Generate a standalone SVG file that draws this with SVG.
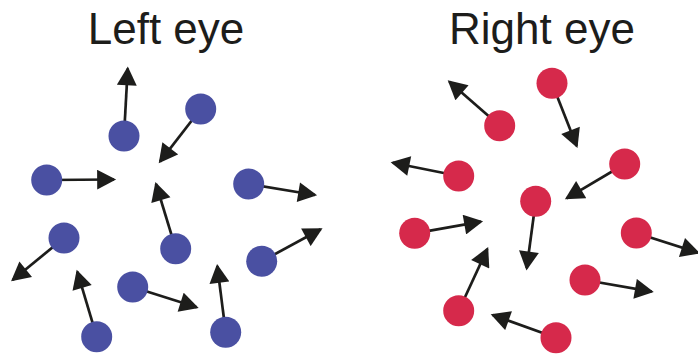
<svg xmlns="http://www.w3.org/2000/svg" width="698" height="355" viewBox="0 0 698 355">
<style>
.title{font-family:"Liberation Sans",Arial,Helvetica,sans-serif;font-size:44px;fill:#1d1d1b;text-anchor:middle}
.l{stroke:#1d1d1b;stroke-width:2.7;fill:none;marker-end:url(#ah)}
.b{fill:#4a50a2}
.r{fill:#d6294b}
</style>
<defs>
<marker id="ah" markerUnits="userSpaceOnUse" markerWidth="20" markerHeight="20" viewBox="0 0 18 19" refX="16" refY="9.5" orient="auto">
<path d="M0,0 L18,9.5 L0,19 Z" fill="#1d1d1b"/>
</marker>
</defs>
<rect width="698" height="355" fill="#ffffff"/>
<text class="title" x="166" y="44">Left eye</text>
<text class="title" x="542" y="44">Right eye</text>
<g id="connectors">
<line class="l" x1="124" y1="136" x2="127.7" y2="68.5"/>
<line class="l" x1="200.7" y1="109" x2="160" y2="161.7"/>
<line class="l" x1="46.7" y1="180" x2="114" y2="179.5"/>
<line class="l" x1="248.7" y1="184" x2="315" y2="195"/>
<line class="l" x1="64" y1="238" x2="12.7" y2="280"/>
<line class="l" x1="175.7" y1="248.7" x2="156" y2="184"/>
<line class="l" x1="261.7" y1="261.3" x2="320.7" y2="229.3"/>
<line class="l" x1="132.7" y1="287" x2="196.7" y2="307.3"/>
<line class="l" x1="96.7" y1="336.7" x2="77.3" y2="271.7"/>
<line class="l" x1="225.7" y1="332.3" x2="217.3" y2="266"/>
<line class="l" x1="552" y1="83.3" x2="576.7" y2="146"/>
<line class="l" x1="499.7" y1="125.7" x2="449.3" y2="81.7"/>
<line class="l" x1="458.7" y1="176" x2="392.7" y2="162.7"/>
<line class="l" x1="624.7" y1="164" x2="566.7" y2="198.3"/>
<line class="l" x1="535.7" y1="201.3" x2="526.7" y2="268.3"/>
<line class="l" x1="414.7" y1="233.3" x2="481" y2="221.7"/>
<line class="l" x1="636.3" y1="233" x2="698" y2="252.7"/>
<line class="l" x1="585" y1="280" x2="651.7" y2="291.7"/>
<line class="l" x1="458.7" y1="310.7" x2="487.3" y2="249"/>
<line class="l" x1="556" y1="337.7" x2="492.7" y2="315"/>
</g>
<g id="left-1"><circle class="b" cx="124" cy="136" r="15.5"/></g>
<g id="left-2"><circle class="b" cx="200.7" cy="109" r="15.5"/></g>
<g id="left-3"><circle class="b" cx="46.7" cy="180" r="15.5"/></g>
<g id="left-4"><circle class="b" cx="248.7" cy="184" r="15.5"/></g>
<g id="left-5"><circle class="b" cx="64" cy="238" r="15.5"/></g>
<g id="left-6"><circle class="b" cx="175.7" cy="248.7" r="15.5"/></g>
<g id="left-7"><circle class="b" cx="261.7" cy="261.3" r="15.5"/></g>
<g id="left-8"><circle class="b" cx="132.7" cy="287" r="15.5"/></g>
<g id="left-9"><circle class="b" cx="96.7" cy="336.7" r="15.5"/></g>
<g id="left-10"><circle class="b" cx="225.7" cy="332.3" r="15.5"/></g>
<g id="right-1"><circle class="r" cx="552" cy="83.3" r="15.5"/></g>
<g id="right-2"><circle class="r" cx="499.7" cy="125.7" r="15.5"/></g>
<g id="right-3"><circle class="r" cx="458.7" cy="176" r="15.5"/></g>
<g id="right-4"><circle class="r" cx="624.7" cy="164" r="15.5"/></g>
<g id="right-5"><circle class="r" cx="535.7" cy="201.3" r="15.5"/></g>
<g id="right-6"><circle class="r" cx="414.7" cy="233.3" r="15.5"/></g>
<g id="right-7"><circle class="r" cx="636.3" cy="233" r="15.5"/></g>
<g id="right-8"><circle class="r" cx="585" cy="280" r="15.5"/></g>
<g id="right-9"><circle class="r" cx="458.7" cy="310.7" r="15.5"/></g>
<g id="right-10"><circle class="r" cx="556" cy="337.7" r="15.5"/></g>
</svg>
